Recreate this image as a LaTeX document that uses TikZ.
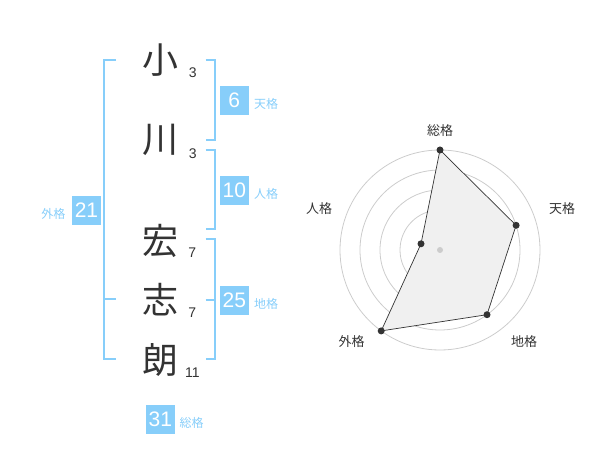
\documentclass[tikz,border=0pt]{standalone}
\usepackage{fontspec}
\setmainfont{Liberation Sans}
\newfontfamily\cjk{Noto Sans CJK JP}
\definecolor{skyb}{HTML}{87CEFA}
\definecolor{dk}{HTML}{333333}
\definecolor{ring}{HTML}{CCCCCC}
\definecolor{area}{HTML}{F0F0F0}
\begin{document}
\begin{tikzpicture}[x=1pt,y=-1pt,
  kanji/.style={font=\cjk\fontsize{36}{36}\selectfont, text=dk, inner sep=0pt},
  strokes/.style={font=\fontsize{14}{14}\selectfont, text=dk, inner sep=0pt},
  valbox/.style={fill=skyb, text=white, minimum width=28.7pt, minimum height=28.7pt, inner sep=0pt, font=\fontsize{21}{21}\selectfont},
  kaku/.style={font=\cjk\fontsize{12}{12}\selectfont, text=skyb, inner sep=0pt},
  brk/.style={draw=skyb, line width=2pt},
  rlabel/.style={font=\cjk\fontsize{13}{13}\selectfont, text=dk, inner sep=0pt},
  ringline/.style={draw=ring, line width=0.8pt},
  dot/.style={circle, fill=dk, minimum size=7pt, inner sep=0pt},
]
\useasboundingbox (0,0) rectangle (600,470);
% name characters
\node[kanji] (c1) at (160,60) {小};
\node[kanji] (c2) at (160,140) {川};
\node[kanji] (c3) at (160,241) {宏};
\node[kanji] (c4) at (160,300) {志};
\node[kanji] (c5) at (160,360) {朗};
\node[strokes] (s1) at (192.7,72.7) {3};
\node[strokes] (s2) at (192.7,153.3) {3};
\node[strokes] (s3) at (192.3,252.3) {7};
\node[strokes] (s4) at (192.3,312.7) {7};
\node[strokes] (s5) at (192.3,372.7) {11};
% brackets
\draw[brk] (116,60) -- (104,60) -- (104,359.3) -- (116,359.3);
\draw[brk] (104,299.5) -- (116,299.5);
\draw[brk] (205.5,60) -- (215,60) -- (215,140) -- (205.5,140);
\draw[brk] (205.5,150) -- (215,150) -- (215,229.5) -- (205.5,229.5);
\draw[brk] (205.5,239.3) -- (215,239.3) -- (215,359.3) -- (205.5,359.3);
\draw[brk] (205.5,300) -- (215,300);
% value boxes
\node[valbox] (gai) at (86.5,210.5) {21};
\node[kaku] (gail) at (53.3,214) {外格};
\node[valbox] (ten) at (234.3,100.3) {6};
\node[kaku] (tenl) at (266,104) {天格};
\node[valbox] (jin) at (234.3,190.3) {10};
\node[kaku] (jinl) at (266,194) {人格};
\node[valbox] (chi) at (234.3,300.3) {25};
\node[kaku] (chil) at (266,304.3) {地格};
\node[valbox] (sou) at (160.3,419.3) {31};
\node[kaku] (soul) at (191.7,422.5) {総格};
% radar chart
\coordinate (C) at (440,250);
\foreach \r in {20,40,60,80,100} \draw[ringline] (C) circle[radius=\r];
\coordinate (p1) at (440,150);
\coordinate (p2) at (516.1,225.3);
\coordinate (p3) at (487.0,314.7);
\coordinate (p4) at (381.2,330.9);
\coordinate (p5) at (421.0,243.8);
\draw[fill=area, draw=dk, line width=0.7pt] (p1) -- (p2) -- (p3) -- (p4) -- (p5) -- cycle;
\node[circle, fill=ring, minimum size=6pt, inner sep=0pt] (cd) at (C) {};
\foreach \p in {p1,p2,p3,p4,p5} \node[dot] at (\p) {};
\node[rlabel] (r1) at (440,130.7) {総格};
\node[rlabel] (r2) at (562,208.7) {天格};
\node[rlabel] (r3) at (524,341.7) {地格};
\node[rlabel] (r4) at (351.7,341.7) {外格};
\node[rlabel] (r5) at (319,208.7) {人格};
\end{tikzpicture}
\end{document}
